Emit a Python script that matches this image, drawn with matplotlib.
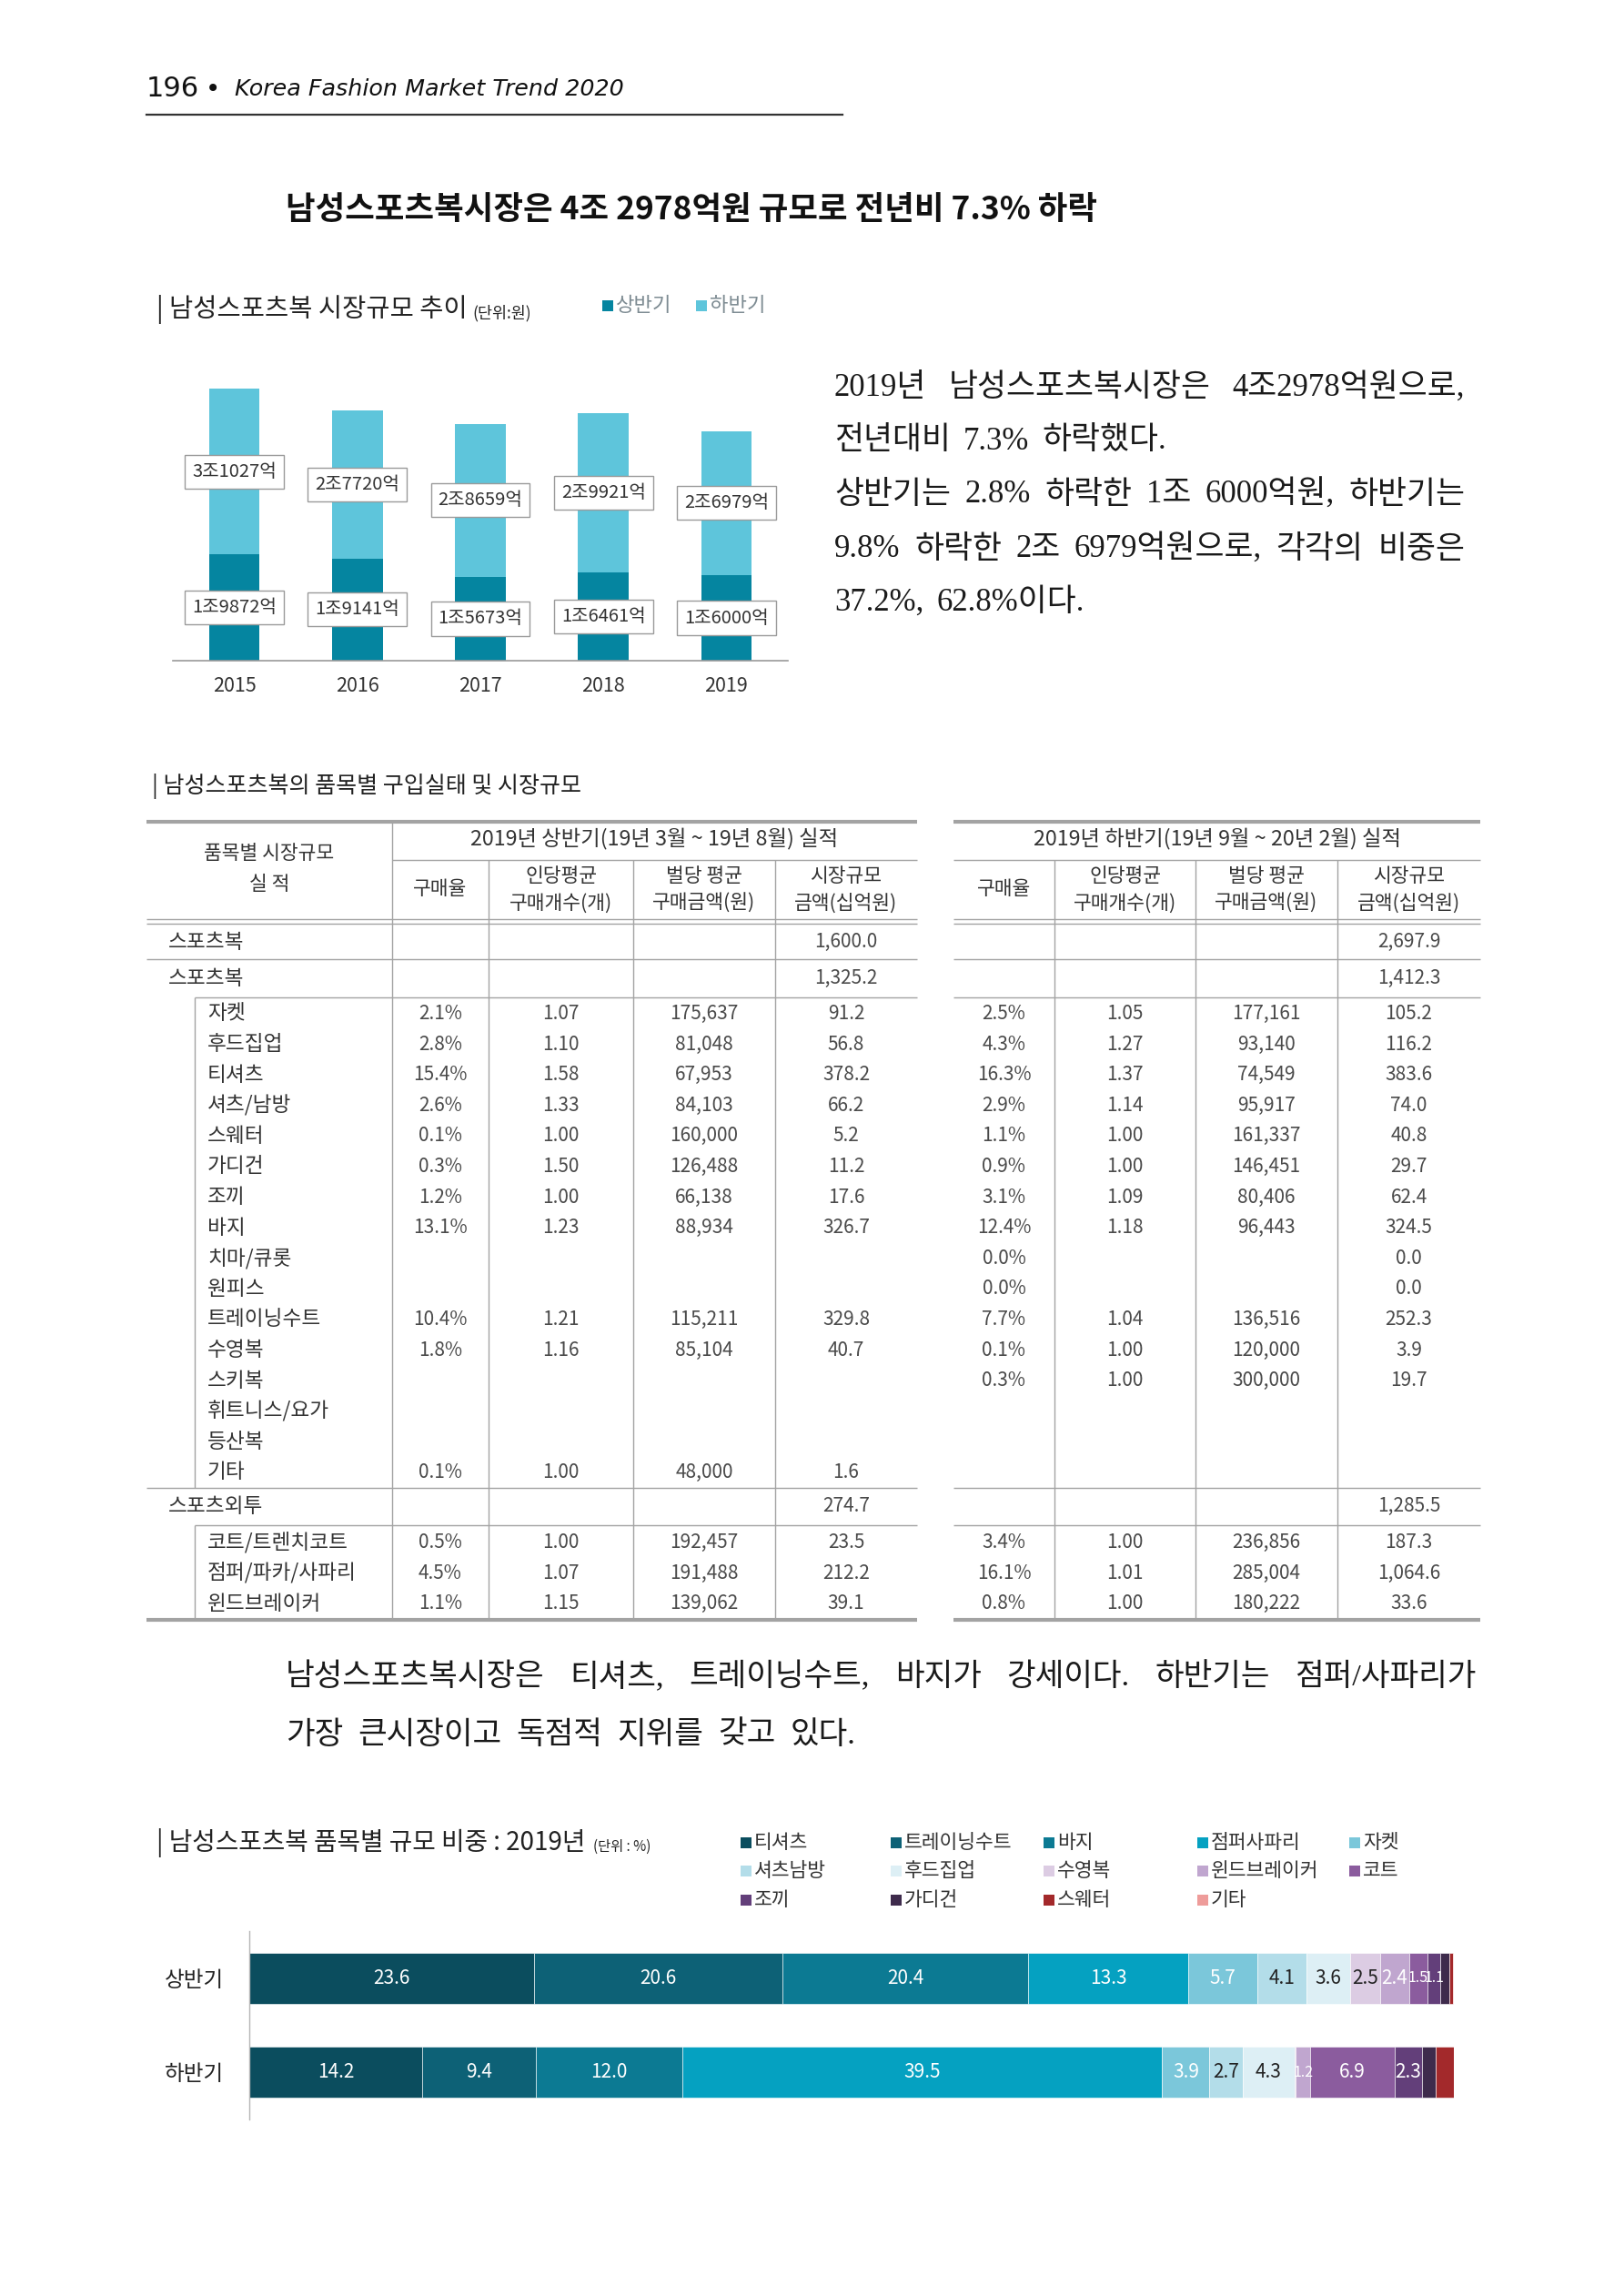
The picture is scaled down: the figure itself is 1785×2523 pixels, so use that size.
import matplotlib
matplotlib.use('Agg')
import matplotlib.pyplot as plt
from matplotlib.patches import Rectangle
import numpy as np

W, H = 1785, 2523
CJK = 'Noto Sans CJK KR'
plt.rcParams['font.family'] = [CJK, 'DejaVu Sans']

# ---------------- data ----------------
years = ['2015', '2016', '2017', '2018', '2019']
h1_eok = [19872, 19141, 15673, 16461, 16000]   # 상반기 (억원)
h2_eok = [31027, 27720, 28659, 29921, 26979]   # 하반기 (억원)

total_label, total_h1, total_h2 = '스포츠복', '1,600.0', '2,697.9'
g1_label, g1_h1, g1_h2 = '스포츠복', '1,325.2', '1,412.3'
g1_items = ['자켓', '후드집업', '티셔츠', '셔츠/남방', '스웨터', '가디건', '조끼', '바지',
            '치마/큐롯', '원피스', '트레이닝수트', '수영복', '스키복', '휘트니스/요가', '등산복', '기타']
g1_h1_rate = ['2.1%', '2.8%', '15.4%', '2.6%', '0.1%', '0.3%', '1.2%', '13.1%', '', '', '10.4%', '1.8%', '', '', '', '0.1%']
g1_h1_cnt = ['1.07', '1.10', '1.58', '1.33', '1.00', '1.50', '1.00', '1.23', '', '', '1.21', '1.16', '', '', '', '1.00']
g1_h1_price = ['175,637', '81,048', '67,953', '84,103', '160,000', '126,488', '66,138', '88,934', '', '', '115,211', '85,104', '', '', '', '48,000']
g1_h1_size = ['91.2', '56.8', '378.2', '66.2', '5.2', '11.2', '17.6', '326.7', '', '', '329.8', '40.7', '', '', '', '1.6']
g1_h2_rate = ['2.5%', '4.3%', '16.3%', '2.9%', '1.1%', '0.9%', '3.1%', '12.4%', '0.0%', '0.0%', '7.7%', '0.1%', '0.3%', '', '', '']
g1_h2_cnt = ['1.05', '1.27', '1.37', '1.14', '1.00', '1.00', '1.09', '1.18', '', '', '1.04', '1.00', '1.00', '', '', '']
g1_h2_price = ['177,161', '93,140', '74,549', '95,917', '161,337', '146,451', '80,406', '96,443', '', '', '136,516', '120,000', '300,000', '', '', '']
g1_h2_size = ['105.2', '116.2', '383.6', '74.0', '40.8', '29.7', '62.4', '324.5', '0.0', '0.0', '252.3', '3.9', '19.7', '', '', '']

g2_label, g2_h1, g2_h2 = '스포츠외투', '274.7', '1,285.5'
g2_items = ['코트/트렌치코트', '점퍼/파카/사파리', '윈드브레이커']
g2_h1_rate = ['0.5%', '4.5%', '1.1%']
g2_h1_cnt = ['1.00', '1.07', '1.15']
g2_h1_price = ['192,457', '191,488', '139,062']
g2_h1_size = ['23.5', '212.2', '39.1']
g2_h2_rate = ['3.4%', '16.1%', '0.8%']
g2_h2_cnt = ['1.00', '1.01', '1.00']
g2_h2_price = ['236,856', '285,004', '180,222']
g2_h2_size = ['187.3', '1,064.6', '33.6']

share_cats = ['티셔츠', '트레이닝수트', '바지', '점퍼사파리', '자켓', '셔츠남방', '후드집업',
              '수영복', '윈드브레이커', '코트', '조끼', '가디건', '스웨터', '기타']
share_h1 = [23.6, 20.6, 20.4, 13.3, 5.7, 4.1, 3.6, 2.5, 2.4, 1.5, 1.1, 0.7, 0.3, 0.1]
share_h2 = [14.2, 9.4, 12.0, 39.5, 3.9, 2.7, 4.3, 0.1, 1.2, 6.9, 2.3, 1.1, 1.5, 0.0]
share_colors = ['#0B4D5E', '#0D6176', '#0C7A93', '#05A1C1', '#7BC7DA', '#B3DDE9', '#DDEFF5',
                '#DCCCE3', '#C0A6CF', '#8B5C9E', '#633F7A', '#3E2B4C', '#A3292B', '#EE9C9A']
share_label_dark = [False, False, False, False, False, True, True, True, False, False, False, False, False, False]
half_labels = ['상반기', '하반기']

C_H1, C_H2 = '#0585A0', '#5EC5DB'

# ---------------- figure ----------------
fig = plt.figure(figsize=(W / 100, H / 100), dpi=100)
page = fig.add_axes([0, 0, 1, 1])
page.set_xlim(0, W)
page.set_ylim(H, 0)
page.axis('off')
renderer = fig.canvas.get_renderer()


def rect(x0, y0, x1, y1):
    return [x0 / W, 1 - y1 / H, (x1 - x0) / W, (y1 - y0) / H]


def place_words(words, x0, y, x1=None, gap=16, **kw):
    ts = [page.text(x0, y, w, va='center', ha='left', **kw) for w in words]
    ws = [t.get_window_extent(renderer).width for t in ts]
    if x1 is not None and len(words) > 1:
        g = (x1 - x0 - sum(ws)) / (len(words) - 1)
    else:
        g = gap
    x = x0
    for t, w in zip(ts, ws):
        t.set_x(x)
        x += w + g


# header
page.text(161, 98, '196', fontsize=22, family='DejaVu Sans', color='#111', va='center')
page.text(234, 98, '•', fontsize=20, family='DejaVu Sans', color='#111', va='center', ha='center')
page.text(258, 98, 'Korea Fashion Market Trend 2020', fontsize=18.3, family='DejaVu Sans',
          style='italic', color='#111', va='center')
page.plot([161, 926], [126, 126], color='#333', lw=1.6)

page.text(314, 231, '남성스포츠복시장은 4조 2978억원 규모로 전년비 7.3% 하락', fontsize=25.5,
          fontweight='bold', color='#111', va='center')

# ---------------- chart 1 ----------------
page.text(172, 340, '| 남성스포츠복 시장규모 추이', fontsize=20.5, color='#222', va='center')
page.text(519, 344, '(단위:원)', fontsize=12.5, color='#222', va='center')
for xs, lab, col in [(668, '상반기', C_H1), (771, '하반기', C_H2)]:
    page.add_patch(Rectangle((xs - 6, 330), 12, 12, color=col, lw=0))
    page.text(xs + 9, 335, lab, fontsize=16, color='#7d8b92', va='center')

ax1 = fig.add_axes(rect(190, 380, 866, 726))
xpos = np.arange(len(years))
ax1.bar(xpos, h1_eok, width=0.41, color=C_H1, zorder=2)
ax1.bar(xpos, h2_eok, width=0.41, bottom=h1_eok, color=C_H2, zorder=2)
ax1.set_xlim(-0.5, 4.5)
ax1.set_ylim(0, 58900)
for s in ['top', 'right', 'left']:
    ax1.spines[s].set_visible(False)
ax1.spines['bottom'].set_color('#9a9a9a')
ax1.spines['bottom'].set_linewidth(1.2)
ax1.set_yticks([])
ax1.set_xticks(xpos, years)
ax1.tick_params(axis='x', length=0, pad=12, labelsize=15.5, labelcolor='#333')
ax1.patch.set_alpha(0)


def fmt_eok(v):
    return f'{v // 10000}조{v % 10000}억'


box = dict(boxstyle='square,pad=0.4', fc='white', ec='#9a9a9a', lw=1)
for i in range(len(years)):
    ax1.text(i, h1_eok[i] / 2, fmt_eok(h1_eok[i]), ha='center', va='center', fontsize=14.5,
             color='#333', bbox=box, zorder=5)
    ax1.text(i, h1_eok[i] + h2_eok[i] / 2, fmt_eok(h2_eok[i]), ha='center', va='center',
             fontsize=14.5, color='#333', bbox=box, zorder=5)

# paragraph 1
serif = ['Liberation Serif', CJK]
pk = dict(fontsize=25, family=serif, color='#1a1a1a')
place_words(['2019년', '남성스포츠복시장은', '4조2978억원으로,'], 917, 427, x1=1610, **pk)
place_words(['전년대비', '7.3%', '하락했다.'], 917, 485, gap=14, **pk)
place_words(['상반기는', '2.8%', '하락한', '1조', '6000억원,', '하반기는'], 917, 544, x1=1610, **pk)
place_words(['9.8%', '하락한', '2조', '6979억원으로,', '각각의', '비중은'], 917, 604, x1=1610, **pk)
place_words(['37.2%,', '62.8%이다.'], 917, 662, gap=14, **pk)

# ---------------- table ----------------
page.text(167, 864, '| 남성스포츠복의 품목별 구입실태 및 시장규모', fontsize=18, color='#222', va='center')

LC = '#a3a3a3'
L0, L1 = 161, 1008
R0, R1 = 1048, 1627
ldiv = [431, 537, 696, 852]
rdiv = [1159, 1314, 1470]
Y_TOP, Y_BOT = 903, 1780
IND = 214


def hl(y, x0, x1, lw=1.0):
    page.plot([x0, x1], [y, y], color=LC, lw=lw, solid_capstyle='butt')


def vl(x, y0, y1, lw=1.0):
    page.plot([x, x], [y0, y1], color=LC, lw=lw, solid_capstyle='butt')


for (a, b) in [(L0, L1), (R0, R1)]:
    hl(Y_TOP, a, b, 3)
    hl(Y_BOT, a, b, 3)
    hl(1010, a, b)
    hl(1015, a, b)
    hl(1054, a, b)
    hl(1635, a, b)
hl(945, ldiv[0], L1)
hl(945, R0, R1)
hl(1096, IND, L1)
hl(1096, R0, R1)
hl(1676, IND, L1)
hl(1676, R0, R1)
vl(ldiv[0], Y_TOP, Y_BOT)
for x in ldiv[1:] + rdiv:
    vl(x, 945, Y_BOT)
vl(IND, 1096, 1635)
vl(IND, 1676, Y_BOT)

tk = dict(fontsize=15.5, color='#333', ha='center', va='center')
page.text((L0 + ldiv[0]) / 2, 938, '품목별 시장규모', **tk)
page.text((L0 + ldiv[0]) / 2, 972, '실 적', **tk)
hk = dict(tk, fontsize=16.8)
page.text((ldiv[0] + L1) / 2, 922, '2019년 상반기(19년 3월 ~ 19년 8월) 실적', **hk)
page.text((R0 + R1) / 2, 922, '2019년 하반기(19년 9월 ~ 20년 2월) 실적', **hk)
lcent = [(ldiv[0] + ldiv[1]) / 2, (ldiv[1] + ldiv[2]) / 2, (ldiv[2] + ldiv[3]) / 2, (ldiv[3] + L1) / 2]
rcent = [(R0 + rdiv[0]) / 2, (rdiv[0] + rdiv[1]) / 2, (rdiv[1] + rdiv[2]) / 2, (rdiv[2] + R1) / 2]
sub1 = ['인당평균', '벌당 평균', '시장규모']
sub2 = ['구매개수(개)', '구매금액(원)', '금액(십억원)']
for cents in (lcent, rcent):
    page.text(cents[0], 977, '구매율', **tk)
    for j in range(3):
        page.text(cents[j + 1], 963, sub1[j], **tk)
        page.text(cents[j + 1], 993, sub2[j], **tk)

nk = dict(fontsize=15, color='#4a4a4a', ha='center', va='center', fontweight='light')
lk = dict(fontsize=16.3, color='#333', ha='left', va='center')


def row(y, label, x_lab, h1vals, h2vals):
    page.text(x_lab, y, label, **lk)
    for c, v in zip(lcent, h1vals):
        if v:
            page.text(c, y, v, **nk)
    for c, v in zip(rcent, h2vals):
        if v:
            page.text(c, y, v, **nk)


row(1035, total_label, 185, ['', '', '', total_h1], ['', '', '', total_h2])
row(1075, g1_label, 185, ['', '', '', g1_h1], ['', '', '', g1_h2])
for i, name in enumerate(g1_items):
    y = 1114 + i * 33.6
    row(y, name, 228,
        [g1_h1_rate[i], g1_h1_cnt[i], g1_h1_price[i], g1_h1_size[i]],
        [g1_h2_rate[i], g1_h2_cnt[i], g1_h2_price[i], g1_h2_size[i]])
row(1655, g2_label, 185, ['', '', '', g2_h1], ['', '', '', g2_h2])
for i, name in enumerate(g2_items):
    y = 1695 + i * 33.6
    row(y, name, 228,
        [g2_h1_rate[i], g2_h1_cnt[i], g2_h1_price[i], g2_h1_size[i]],
        [g2_h2_rate[i], g2_h2_cnt[i], g2_h2_price[i], g2_h2_size[i]])

# paragraph 2
pk2 = dict(pk, fontsize=24.8)
place_words(['남성스포츠복시장은', '티셔츠,', '트레이닝수트,', '바지가', '강세이다.', '하반기는', '점퍼/사파리가'],
            314, 1843, x1=1623, **pk2)
place_words(['가장', '큰시장이고', '독점적', '지위를', '갖고', '있다.'], 314, 1907, gap=16, **pk2)

# ---------------- chart 2 ----------------
page.text(172, 2025, '| 남성스포츠복 품목별 규모 비중 : 2019년', fontsize=20, color='#222', va='center')
page.text(652, 2029, '(단위 : %)', fontsize=11, color='#222', va='center')
leg_x = [820, 985, 1153, 1322, 1489]
leg_y = [2025, 2056, 2088]
for k, (name, col) in enumerate(zip(share_cats, share_colors)):
    r, c = divmod(k, 5)
    xs, ys = leg_x[c], leg_y[r]
    page.add_patch(Rectangle((xs - 6, ys - 6), 12, 12, color=col, lw=0))
    page.text(xs + 9, ys, name, fontsize=15.5, color='#333', va='center')

ax3 = fig.add_axes(rect(274, 2122, 1598, 2329))
ax3.patch.set_alpha(0)
for row_i, vals in enumerate([share_h1, share_h2]):
    tot = sum(vals)
    left = 0.0
    for k, v in enumerate(vals):
        w = v / tot * 100
        ax3.barh(row_i, w, left=left, height=0.54, color=share_colors[k],
                 edgecolor='white', linewidth=0.4)
        if k <= 10 and v >= 1.0:
            fs = 15 if w >= 2.0 else 11.5
            ax3.text(left + w / 2, row_i, f'{v:.1f}', ha='center', va='center', fontsize=fs,
                     color='#222' if share_label_dark[k] else 'white')
        left += w
ax3.set_xlim(0, 100)
ax3.set_ylim(1.5, -0.5)
for s in ['top', 'right', 'bottom']:
    ax3.spines[s].set_visible(False)
ax3.spines['left'].set_color('#b5b5b5')
ax3.spines['left'].set_linewidth(1)
ax3.set_xticks([])
ax3.set_yticks([0, 1], half_labels)
ax3.tick_params(axis='y', length=0, pad=20, labelsize=17, labelcolor='#222')

fig.savefig('out.png', dpi=100)
